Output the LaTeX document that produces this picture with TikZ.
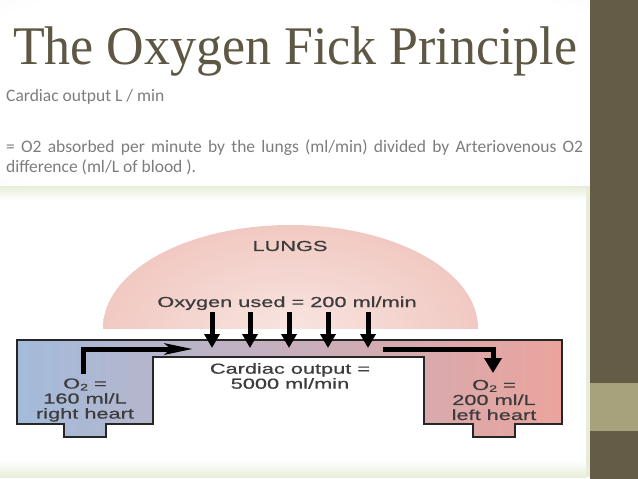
\documentclass[tikz,border=0pt]{standalone}
\usepackage{fontspec}
\setmainfont{Liberation Serif}
\newfontfamily\titlefont[FakeStretch=0.955]{Liberation Serif}
\newfontfamily\bodyfont{Carlito}
\newfontfamily\diagfont[FakeStretch=1.5, FakeBold=0.6]{Liberation Sans}
\usepackage{tikz}
\usetikzlibrary{arrows.meta}
\definecolor{titlebrown}{RGB}{93, 87, 67}
\definecolor{bodygrey}{RGB}{125, 125, 125}
\definecolor{barbrown}{RGB}{101, 92, 71}
\definecolor{barolive}{RGB}{167, 162, 124}
\definecolor{panelgreen}{RGB}{232, 237, 218}
\definecolor{lungpale}{RGB}{248, 228, 224}
\definecolor{lungpink}{RGB}{241, 201, 194}
\definecolor{heartblue}{RGB}{163, 187, 219}
\definecolor{channelmauve}{RGB}{214, 193, 210}
\definecolor{heartpink}{RGB}{235, 164, 157}
\definecolor{diaggrey}{RGB}{60, 60, 60}
\colorlet{vignettegrey}{black!13}
\pgfdeclareradialshading{slidevignette}{\pgfpoint{0bp}{0bp}}{color(0bp)=(white); color(32bp)=(white); color(72bp)=(vignettegrey)}
\newcommand{\lowidx}[1]{\raisebox{-0.25ex}{\fontsize{9.5}{9.5}\selectfont #1}}

\begin{document}
\begin{tikzpicture}[x=1pt, y=-1pt,
  every node/.style={inner sep=0pt},
  titletext/.style={font=\titlefont\fontsize{54.4}{60}\selectfont, text=titlebrown},
  bodytext/.style={font=\bodyfont\fontsize{17.5}{20}\selectfont, text=bodygrey},
  diagtext/.style={font=\diagfont\fontsize{14.5}{15}\selectfont, text=diaggrey, align=center},
  o2arrow/.style={line width=5pt, black, -{Triangle[length=14pt, width=15pt]}},
  flowarrow/.style={line width=5pt, black, line join=miter}]
\useasboundingbox (0,0) rectangle (638,479);
% Slide background
\fill[white] (0,0) rectangle (590,479);
\shade[shading=slidevignette] (0,0) rectangle (590,186);
\fill[panelgreen] (0,186) rectangle (590,477);
\shade[top color=panelgreen, bottom color=white] (0,186) rectangle (586,200);
\fill[white] (0,200) rectangle (586,460);
\shade[top color=white, bottom color=panelgreen] (0,460) rectangle (586,477);
\fill[barbrown] (590,0) rectangle (638,479);
\fill[barolive] (590,383) rectangle (638,431);
% Title and text
\node[titletext, anchor=base west] (title) at (13,64) {The Oxygen Fick Principle};
\node[bodytext, anchor=base west] (cardiac) at (6,101) {Cardiac output L / min};
\node[bodytext, anchor=base west] (defone) at (6,152)
  {\makebox[577pt][s]{= O2 absorbed per minute by the lungs (ml/min) divided by Arteriovenous O2}};
\node[bodytext, anchor=base west] (deftwo) at (6,172) {difference (ml/L of blood ).};
% Lungs
\begin{scope}
  \clip (90,210) rectangle (490,328);
  \shade[inner color=lungpale, outer color=lungpink] (290.5,328) ellipse[x radius=187.5, y radius=103];
\end{scope}
\node[diagtext] (lungs) at (290,246) {LUNGS};
\node[diagtext, anchor=base] (used) at (287,307) {Oxygen used = 200 ml/min};
% Heart and circulation
\shadedraw[draw=black!85, line width=1.6pt, left color=heartblue, middle color=channelmauve, right color=heartpink]
  (17,340) -- (562,340) -- (562,424) -- (515,424) -- (515,437) -- (473,437) -- (473,424)
  -- (424,424) -- (424,357) -- (153,357) -- (153,424) -- (106,424) -- (106,437)
  -- (64,437) -- (64,424) -- (17,424) -- cycle;
\foreach \ax [count=\i] in {212,250,289,328,368} {
  \coordinate (otop\i) at (\ax,312);
  \coordinate (obot\i) at (\ax,348);
  \draw[o2arrow] (otop\i) -- (obot\i);
}
\coordinate (rhout) at (83,374);
\coordinate (chin) at (193,349);
\coordinate (chout) at (383,349);
\coordinate (lhin) at (493,373);
\draw[flowarrow, -{Stealth[length=28pt, width=11pt, inset=6pt]}] (rhout) |- (chin);
\draw[flowarrow, -{Triangle[length=15pt, width=17pt]}] (chout) -| (lhin);
\node[diagtext] (output) at (290,376) {Cardiac output =\\5000 ml/min};
\node[diagtext] (rightheart) at (85,400) {O\lowidx{2} =\\160 ml/L\\right heart};
\node[diagtext] (leftheart) at (494,400) {O\lowidx{2} =\\200 ml/L\\left heart};
\end{tikzpicture}
\end{document}
